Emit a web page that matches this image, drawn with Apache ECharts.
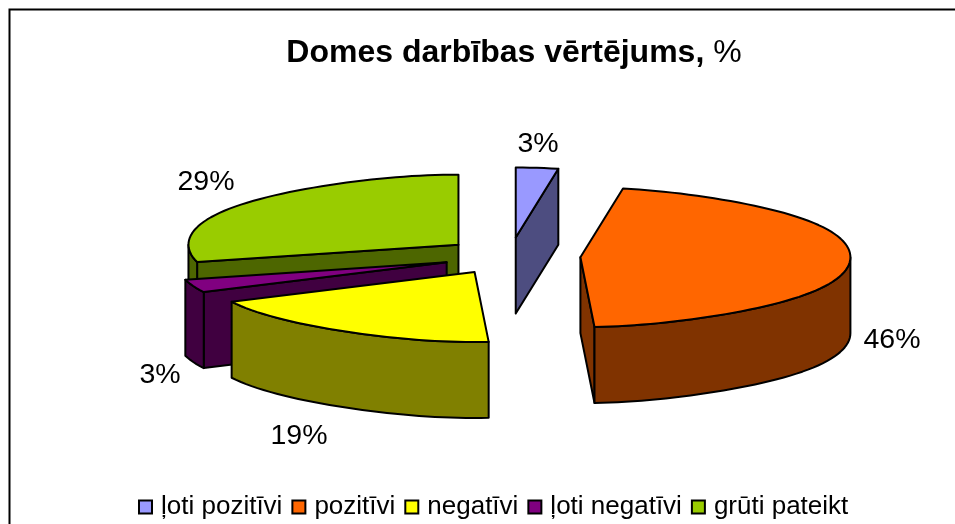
<!DOCTYPE html>
<html>
<head>
<meta charset="utf-8">
<title>Domes darbības vērtējums</title>
<style>
html, body { margin: 0; padding: 0; background: #fff; }
#container { width: 955px; height: 524px; }
</style>
<script src="https://cdn.jsdelivr.net/npm/echarts@6/dist/echarts.min.js"></script>
</head>
<body>
<div id="container"></div>
<script>
var categories = ['ļoti pozitīvi', 'pozitīvi', 'negatīvi', 'ļoti negatīvi', 'grūti pateikt'];
var values = [3, 46, 19, 3, 29];
var topColors = ['#9999FF', '#FF6600', '#FFFF00', '#800080', '#99CC00'];
var wallColors = ['#4D4D80', '#803300', '#808000', '#400040', '#4D6600'];

// 3d pie layout
var cx = 509, cy = 256;
var rx = 270, ry = 70;
var depth = 76;
var explode = 0.265;
// perspective: rim gets narrower near 12 and 6 o'clock
var pinch = 0.17;
// draw back slices first
var zOrder = [5, 4, 3, 2, 1];
// small x correction of the slice tips, px
var tipNudge = [0, 0, 2, 5, 6];
// label centres, px
var labelPos = [[538, 144], [892, 340], [299, 436], [160, 375], [206, 182]];

var total = values.reduce(function (a, b) { return a + b; }, 0);

function toPoint(apex, deg) {
    var r = deg * Math.PI / 180;
    var c = Math.cos(r);
    return [apex[0] + rx * Math.sin(r) * (1 - pinch * c * c * c * c), apex[1] - ry * c];
}

function lower(p) {
    return [p[0], p[1] + depth];
}

function arc(apex, from, to) {
    var pts = [];
    var n = Math.max(2, Math.ceil(Math.abs(to - from) / 2));
    for (var i = 0; i <= n; i++) {
        pts.push(toPoint(apex, from + (to - from) * i / n));
    }
    return pts;
}

function poly(points, fill) {
    return {
        type: 'polygon',
        shape: { points: points },
        style: { fill: fill, stroke: '#000', lineWidth: 2, lineJoin: 'round' }
    };
}

function makeRender(index) {
    return function (params, api) {
        var before = values.slice(0, index).reduce(function (a, b) { return a + b; }, 0);
        var a0 = before / total * 360;
        var a1 = a0 + api.value(0) / total * 360;
        var mid = (a0 + a1) / 2 * Math.PI / 180;
        var apex = [
            cx + explode * rx * Math.sin(mid) + tipNudge[index],
            cy - explode * ry * Math.cos(mid)
        ];
        var wall = wallColors[index];
        var kids = [];

        // cut faces
        if (Math.sin(a0 * Math.PI / 180) < -0.001) {
            var s = toPoint(apex, a0);
            kids.push(poly([apex, s, lower(s), lower(apex)], wall));
        }
        if (Math.sin(a1 * Math.PI / 180) > 0.001) {
            var e = toPoint(apex, a1);
            kids.push(poly([apex, e, lower(e), lower(apex)], wall));
        }
        // outer wall, front half only
        var w0 = Math.max(a0, 90), w1 = Math.min(a1, 270);
        if (w1 > w0) {
            var rim = arc(apex, w0, w1);
            kids.push(poly(rim.concat(rim.slice().reverse().map(lower)), wall));
        }
        // top
        kids.push(poly([apex].concat(arc(apex, a0, a1)), topColors[index]));
        // label
        kids.push({
            type: 'text',
            z2: 10,
            style: {
                text: api.value(0) + '%',
                x: labelPos[index][0],
                y: labelPos[index][1],
                align: 'center',
                verticalAlign: 'middle',
                fill: '#000',
                font: '28.5px "Liberation Sans", Arial, sans-serif'
            }
        });
        return { type: 'group', children: kids };
    };
}

var myChart = echarts.init(document.getElementById('container'), null, { renderer: 'canvas' });

var seriesList = categories.map(function (name, i) {
    return {
        name: name,
        type: 'custom',
        coordinateSystem: 'none',
        z: zOrder[i],
        silent: true,
        animation: false,
        itemStyle: { color: topColors[i] },
        renderItem: makeRender(i),
        data: [[values[i]]]
    };
});

myChart.setOption({
    animation: false,
    backgroundColor: '#fff',
    title: {
        text: '{b|Domes darbības vērtējums, }{r|%}',
        left: 509,
        top: 32,
        textAlign: 'center',
        textStyle: {
            rich: {
                b: { fontFamily: 'Liberation Sans', fontSize: 32, fontWeight: 'bold', color: '#000' },
                r: { fontFamily: 'Liberation Sans', fontSize: 32, fontWeight: 'normal', color: '#000' }
            }
        }
    },
    legend: {
        data: categories,
        left: 138,
        top: 494,
        padding: 0,
        itemGap: 9,
        itemWidth: 13,
        itemHeight: 13,
        icon: 'rect',
        selectedMode: false,
        itemStyle: { borderColor: '#000', borderWidth: 2 },
        textStyle: { fontFamily: 'Liberation Sans', fontSize: 26, color: '#000', padding: [0, 0, 0, 4] }
    },
    // chart frame, the right and bottom edge are cut off
    graphic: [{
        type: 'polyline',
        silent: true,
        shape: { points: [[9.5, 524], [9.5, 9.5], [955, 9.5]] },
        style: { fill: null, stroke: '#000', lineWidth: 2 }
    }],
    series: seriesList
});
</script>
</body>
</html>
